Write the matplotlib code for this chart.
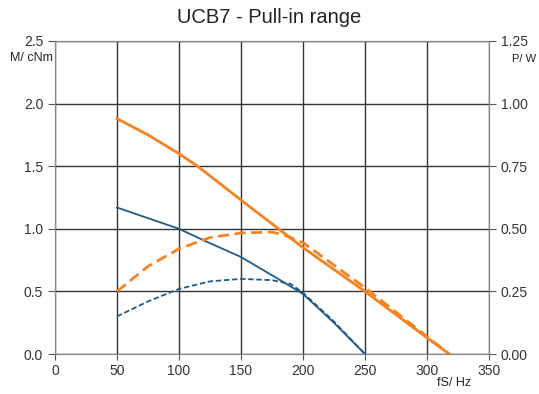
from matplotlib import pyplot as plt
import numpy as np

plt.rcParams['font.family'] = ['Liberation Sans', 'DejaVu Sans']

# Pull-in range curves
freq_orange = [50, 75, 100, 115, 150, 200, 250, 300, 318]
torque_orange = [1.88, 1.75, 1.60, 1.50, 1.23, 0.85, 0.50, 0.13, 0.0]
freq_orange_p = [50, 75, 100, 125, 150, 175, 185, 200, 250, 300, 318]
power_orange = [0.25, 0.35, 0.42, 0.465, 0.483, 0.487, 0.475, 0.445, 0.265, 0.07, 0.0]

freq_blue = [50, 100, 125, 150, 180, 200, 225, 250]
torque_blue = [1.17, 1.0, 0.885, 0.775, 0.60, 0.48, 0.25, 0.0]
freq_blue_p = [50, 75, 100, 125, 150, 175, 190, 200, 225, 250]
power_blue = [0.15, 0.21, 0.26, 0.29, 0.30, 0.295, 0.28, 0.245, 0.13, 0.0]

orange = '#F58220'
blue = '#1F5A8A'

fig = plt.figure(figsize=(5.39, 3.94), dpi=100)
ax = fig.add_axes([0.102, 0.1015, 0.805, 0.7945])
ax2 = ax.twinx()

ax.plot(freq_orange, torque_orange, color=orange, lw=2)
ax2.plot(freq_orange_p, power_orange, color=orange, lw=2, ls=(0, (4, 2)))
ax.plot(freq_blue, torque_blue, color=blue, lw=1.3)
ax2.plot(freq_blue_p, power_blue, color=blue, lw=1.3, ls=(0, (3, 1.5)))

ax.set_xlim(0, 350)
ax.set_ylim(0, 2.5)
ax2.set_ylim(0, 1.25)
ax.set_xticks(range(0, 351, 50))
ax.set_yticks(np.arange(0, 2.51, 0.5))
ax2.set_yticks(np.arange(0, 1.26, 0.25))
ax.set_yticklabels(['%.1f' % v for v in np.arange(0, 2.51, 0.5)])
ax2.set_yticklabels(['%.2f' % v for v in np.arange(0, 1.26, 0.25)])

ax.grid(True, color='#333333', lw=1)
ax.set_axisbelow(True)
for a in (ax, ax2):
    for s in a.spines.values():
        s.set_color('#888888')
    a.tick_params(colors='#333333', labelsize=10, length=5, color='#555555')
ax.tick_params(axis='x', length=4)

fig.text(0.5, 0.955, 'UCB7 - Pull-in range', ha='center', va='center', fontsize=14.5, color='#222222')
fig.text(0.098, 0.853, 'M/ cNm', ha='right', va='center', fontsize=9, color='#222222')
fig.text(0.95, 0.851, 'P/ W', ha='left', va='center', fontsize=8, color='#222222')
fig.text(0.811, 0.027, 'fS/ Hz', ha='left', va='center', fontsize=9, color='#222222')

plt.savefig('out.png')
